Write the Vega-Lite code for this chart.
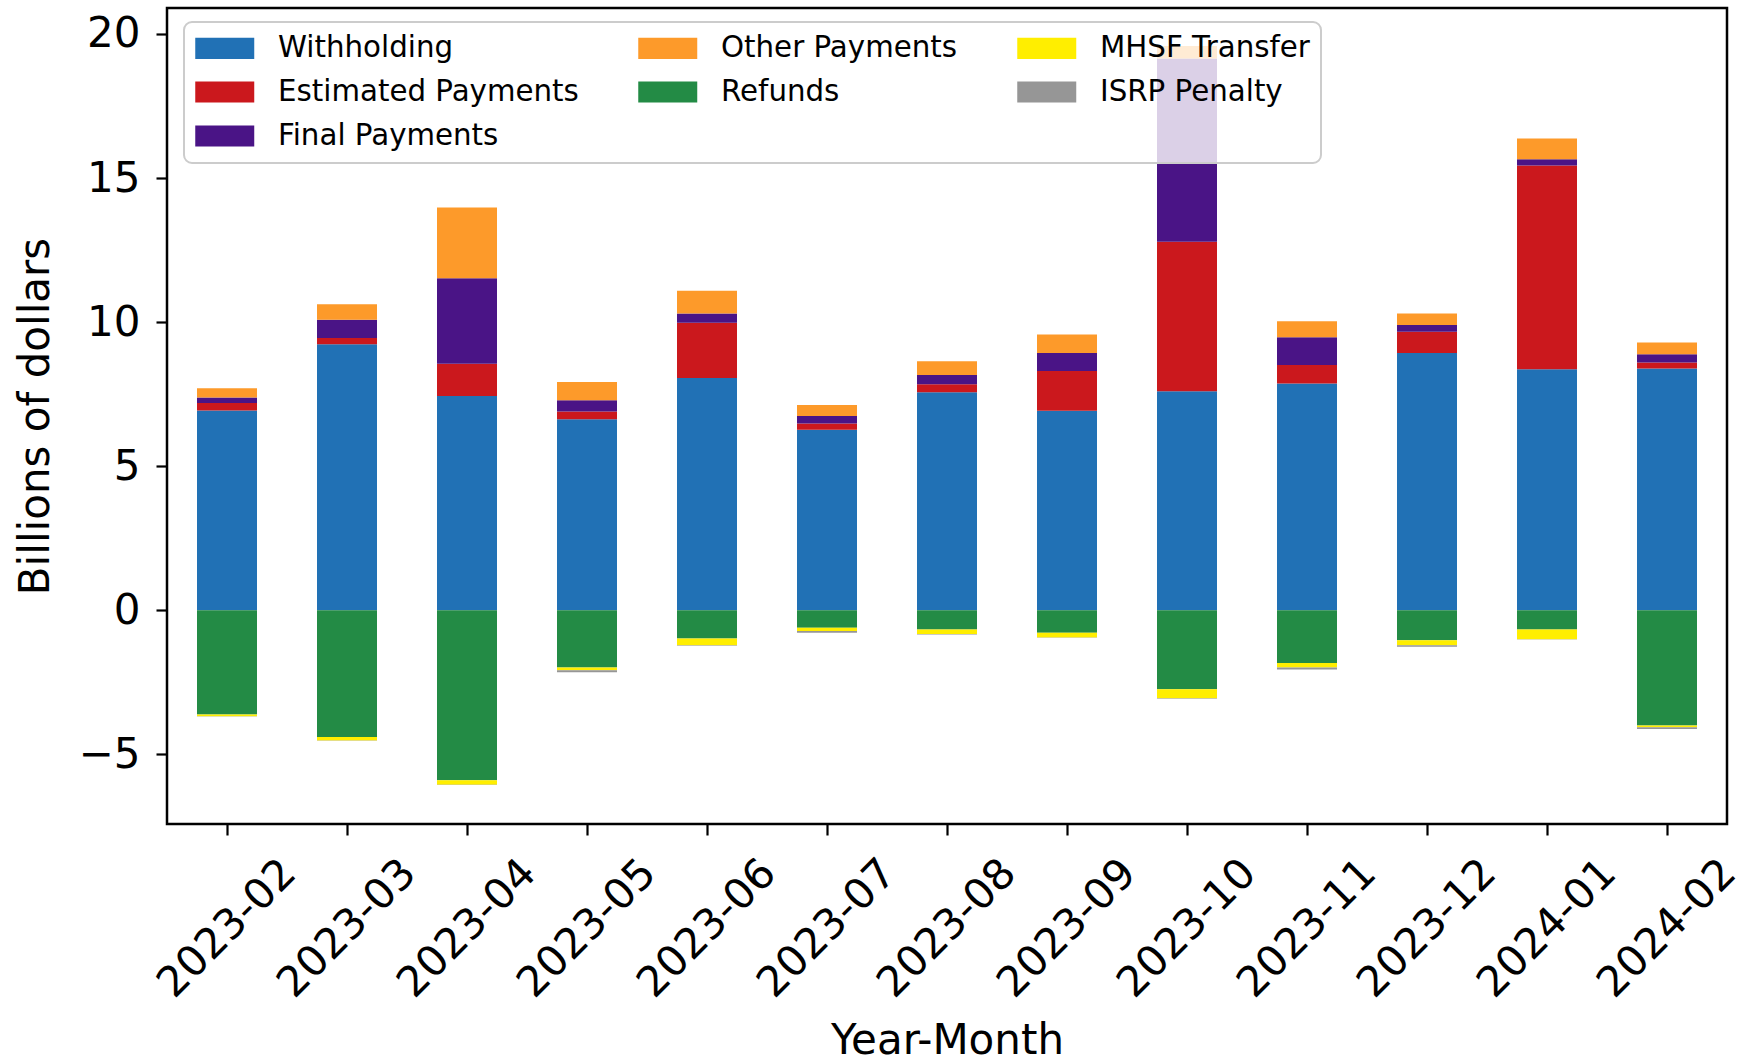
{
  "$schema": "https://vega.github.io/schema/vega-lite/v6.json",
  "width": 1560,
  "height": 816,
  "autosize": {"type": "none"},
  "padding": {"left": 167, "top": 8, "right": 18, "bottom": 239},
  "background": "white",
  "config": {
    "font": "DejaVu Sans",
    "view": {"stroke": "black", "strokeWidth": 2.5},
    "axis": {"grid": false, "domain": false, "tickColor": "black", "tickWidth": 2.2, "tickSize": 11, "labelColor": "black", "titleColor": "black", "labelFontSize": 42, "titleFontSize": 42, "titleFontWeight": "normal"}
  },
  "data": {"values": [
    {"month":"2023-02","category":"Withholding","rank":1,"value":6.93},
    {"month":"2023-02","category":"Estimated Payments","rank":2,"value":0.26},
    {"month":"2023-02","category":"Final Payments","rank":3,"value":0.19},
    {"month":"2023-02","category":"Other Payments","rank":4,"value":0.32},
    {"month":"2023-02","category":"Refunds","rank":5,"value":-3.62},
    {"month":"2023-02","category":"MHSF Transfer","rank":6,"value":-0.06},
    {"month":"2023-02","category":"ISRP Penalty","rank":7,"value":-0.01},
    {"month":"2023-03","category":"Withholding","rank":1,"value":9.23},
    {"month":"2023-03","category":"Estimated Payments","rank":2,"value":0.22},
    {"month":"2023-03","category":"Final Payments","rank":3,"value":0.63},
    {"month":"2023-03","category":"Other Payments","rank":4,"value":0.54},
    {"month":"2023-03","category":"Refunds","rank":5,"value":-4.40},
    {"month":"2023-03","category":"MHSF Transfer","rank":6,"value":-0.12},
    {"month":"2023-03","category":"ISRP Penalty","rank":7,"value":-0.01},
    {"month":"2023-04","category":"Withholding","rank":1,"value":7.43},
    {"month":"2023-04","category":"Estimated Payments","rank":2,"value":1.12},
    {"month":"2023-04","category":"Final Payments","rank":3,"value":2.97},
    {"month":"2023-04","category":"Other Payments","rank":4,"value":2.46},
    {"month":"2023-04","category":"Refunds","rank":5,"value":-5.90},
    {"month":"2023-04","category":"MHSF Transfer","rank":6,"value":-0.16},
    {"month":"2023-04","category":"ISRP Penalty","rank":7,"value":-0.01},
    {"month":"2023-05","category":"Withholding","rank":1,"value":6.63},
    {"month":"2023-05","category":"Estimated Payments","rank":2,"value":0.27},
    {"month":"2023-05","category":"Final Payments","rank":3,"value":0.39},
    {"month":"2023-05","category":"Other Payments","rank":4,"value":0.63},
    {"month":"2023-05","category":"Refunds","rank":5,"value":-1.99},
    {"month":"2023-05","category":"MHSF Transfer","rank":6,"value":-0.09},
    {"month":"2023-05","category":"ISRP Penalty","rank":7,"value":-0.07},
    {"month":"2023-06","category":"Withholding","rank":1,"value":8.06},
    {"month":"2023-06","category":"Estimated Payments","rank":2,"value":1.92},
    {"month":"2023-06","category":"Final Payments","rank":3,"value":0.32},
    {"month":"2023-06","category":"Other Payments","rank":4,"value":0.79},
    {"month":"2023-06","category":"Refunds","rank":5,"value":-0.98},
    {"month":"2023-06","category":"MHSF Transfer","rank":6,"value":-0.24},
    {"month":"2023-06","category":"ISRP Penalty","rank":7,"value":-0.01},
    {"month":"2023-07","category":"Withholding","rank":1,"value":6.26},
    {"month":"2023-07","category":"Estimated Payments","rank":2,"value":0.22},
    {"month":"2023-07","category":"Final Payments","rank":3,"value":0.26},
    {"month":"2023-07","category":"Other Payments","rank":4,"value":0.38},
    {"month":"2023-07","category":"Refunds","rank":5,"value":-0.61},
    {"month":"2023-07","category":"MHSF Transfer","rank":6,"value":-0.11},
    {"month":"2023-07","category":"ISRP Penalty","rank":7,"value":-0.06},
    {"month":"2023-08","category":"Withholding","rank":1,"value":7.56},
    {"month":"2023-08","category":"Estimated Payments","rank":2,"value":0.28},
    {"month":"2023-08","category":"Final Payments","rank":3,"value":0.32},
    {"month":"2023-08","category":"Other Payments","rank":4,"value":0.48},
    {"month":"2023-08","category":"Refunds","rank":5,"value":-0.67},
    {"month":"2023-08","category":"MHSF Transfer","rank":6,"value":-0.16},
    {"month":"2023-08","category":"ISRP Penalty","rank":7,"value":-0.01},
    {"month":"2023-09","category":"Withholding","rank":1,"value":6.92},
    {"month":"2023-09","category":"Estimated Payments","rank":2,"value":1.38},
    {"month":"2023-09","category":"Final Payments","rank":3,"value":0.63},
    {"month":"2023-09","category":"Other Payments","rank":4,"value":0.64},
    {"month":"2023-09","category":"Refunds","rank":5,"value":-0.78},
    {"month":"2023-09","category":"MHSF Transfer","rank":6,"value":-0.17},
    {"month":"2023-09","category":"ISRP Penalty","rank":7,"value":-0.01},
    {"month":"2023-10","category":"Withholding","rank":1,"value":7.60},
    {"month":"2023-10","category":"Estimated Payments","rank":2,"value":5.19},
    {"month":"2023-10","category":"Final Payments","rank":3,"value":6.36},
    {"month":"2023-10","category":"Other Payments","rank":4,"value":0.43},
    {"month":"2023-10","category":"Refunds","rank":5,"value":-2.74},
    {"month":"2023-10","category":"MHSF Transfer","rank":6,"value":-0.32},
    {"month":"2023-10","category":"ISRP Penalty","rank":7,"value":-0.01},
    {"month":"2023-11","category":"Withholding","rank":1,"value":7.87},
    {"month":"2023-11","category":"Estimated Payments","rank":2,"value":0.64},
    {"month":"2023-11","category":"Final Payments","rank":3,"value":0.96},
    {"month":"2023-11","category":"Other Payments","rank":4,"value":0.56},
    {"month":"2023-11","category":"Refunds","rank":5,"value":-1.83},
    {"month":"2023-11","category":"MHSF Transfer","rank":6,"value":-0.16},
    {"month":"2023-11","category":"ISRP Penalty","rank":7,"value":-0.07},
    {"month":"2023-12","category":"Withholding","rank":1,"value":8.93},
    {"month":"2023-12","category":"Estimated Payments","rank":2,"value":0.73},
    {"month":"2023-12","category":"Final Payments","rank":3,"value":0.24},
    {"month":"2023-12","category":"Other Payments","rank":4,"value":0.40},
    {"month":"2023-12","category":"Refunds","rank":5,"value":-1.04},
    {"month":"2023-12","category":"MHSF Transfer","rank":6,"value":-0.18},
    {"month":"2023-12","category":"ISRP Penalty","rank":7,"value":-0.05},
    {"month":"2024-01","category":"Withholding","rank":1,"value":8.36},
    {"month":"2024-01","category":"Estimated Payments","rank":2,"value":7.07},
    {"month":"2024-01","category":"Final Payments","rank":3,"value":0.22},
    {"month":"2024-01","category":"Other Payments","rank":4,"value":0.72},
    {"month":"2024-01","category":"Refunds","rank":5,"value":-0.67},
    {"month":"2024-01","category":"MHSF Transfer","rank":6,"value":-0.34},
    {"month":"2024-01","category":"ISRP Penalty","rank":7,"value":-0.01},
    {"month":"2024-02","category":"Withholding","rank":1,"value":8.39},
    {"month":"2024-02","category":"Estimated Payments","rank":2,"value":0.21},
    {"month":"2024-02","category":"Final Payments","rank":3,"value":0.28},
    {"month":"2024-02","category":"Other Payments","rank":4,"value":0.41},
    {"month":"2024-02","category":"Refunds","rank":5,"value":-4.00},
    {"month":"2024-02","category":"MHSF Transfer","rank":6,"value":-0.06},
    {"month":"2024-02","category":"ISRP Penalty","rank":7,"value":-0.06}
  ]},
  "mark": {"type": "bar"},
  "encoding": {
    "x": {
      "field": "month", "type": "ordinal", "title": "Year-Month",
      "scale": {"paddingInner": 0.5, "paddingOuter": 0.25},
      "axis": {"labelAngle": -45, "labelAlign": "center", "labelBaseline": "middle", "labelPadding": 93, "labelOverlap": false, "titleY": 216, "titleBaseline": "middle"}
    },
    "y": {
      "field": "value", "type": "quantitative", "stack": "zero", "title": "Billions of dollars",
      "scale": {"domain": [-7.42, 20.9], "nice": false, "zero": false},
      "axis": {"values": [-5, 0, 5, 10, 15, 20], "labelPadding": 16, "titleX": -132, "titleBaseline": "middle"}
    },
    "color": {
      "field": "category", "type": "nominal",
      "scale": {
        "domain": ["Withholding", "Other Payments", "MHSF Transfer", "Estimated Payments", "Refunds", "ISRP Penalty", "Final Payments"],
        "range": ["#2171b5", "#fd9a2a", "#ffee00", "#cb181d", "#238b45", "#969696", "#4a1486"]
      },
      "legend": {
        "title": null, "orient": "none", "legendX": 17, "legendY": 14, "columns": 3,
        "direction": "horizontal",
        "symbolType": "M-1,-0.72H3V0.72H-1Z", "symbolSize": 870, "symbolStrokeWidth": 0, "symbolOpacity": 1,
        "labelFontSize": 29.3, "labelColor": "black", "labelOffset": 53, "labelLimit": 0,
        "columnPadding": 59, "rowPadding": 13, "padding": 11,
        "fillColor": "rgba(255,255,255,0.8)", "strokeColor": "#cccccc", "cornerRadius": 8,
        "encode": {"legend": {"update": {"strokeWidth": {"value": 2}}}}
      }
    },
    "order": {"field": "rank", "type": "quantitative"}
  }
}
